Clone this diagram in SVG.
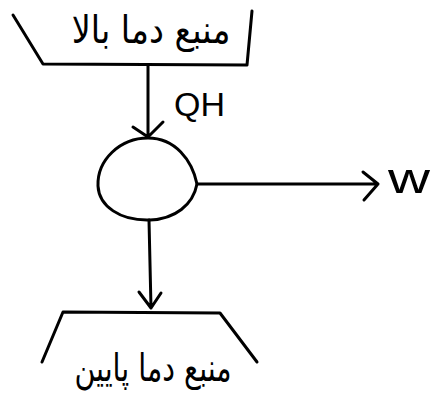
<svg xmlns="http://www.w3.org/2000/svg" width="431" height="393" viewBox="0 0 431 393">
<style>
.ln{fill:none;stroke:#000;stroke-width:3;stroke-linecap:round;stroke-linejoin:round}
.fa{font-family:"DejaVu Sans","Noto Sans",sans-serif;fill:#000;text-anchor:middle;font-size:38px}
.lb{font-family:"Liberation Sans",Arial,sans-serif;fill:#000}
</style>
<rect width="431" height="393" fill="#fff"/>
<g id="hot-source">
<path class="ln" d="M13,15 L43,64 L247,65 L252,11"/>
<text class="fa" transform="translate(151,43) scale(0.88,1)">منبع دما بالا</text>
</g>
<g id="engine">
<path class="ln" d="M148,138 C175,138 192,160 197,184 C193,205 175,219 150,220 C120,221 99,206 98,186 C97,160 120,138 148,138 Z"/>
</g>
<g id="cold-source">
<path class="ln" d="M42,362 L63,312 L220,313 L257,362"/>
<text class="fa" transform="translate(153,381) scale(0.75,1)">منبع دما پایین</text>
</g>
<g id="connectors">
<path class="ln" d="M148,66 L148,137 M133,127 L148,137 L163,122"/>
<path class="ln" d="M197,184 L378,184 M363,172 L378,184 L364,200"/>
<path class="ln" d="M149,220 L151,308 M139,292 L151,308 L161,293"/>
</g>
<g id="labels">
<text class="lb" x="174" y="116" font-size="34">QH</text>
<text class="lb" x="388" y="193" font-size="42" textLength="42" lengthAdjust="spacingAndGlyphs">w</text>
</g>
</svg>
